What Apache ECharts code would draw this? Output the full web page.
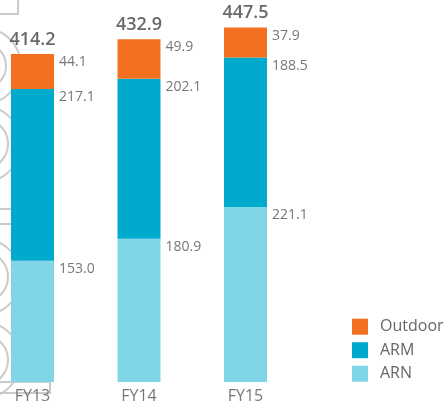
<!DOCTYPE html>
<html>
<head>
<meta charset="utf-8">
<script src="https://cdn.jsdelivr.net/npm/echarts@6/dist/echarts.min.js"></script>
<style>html,body{margin:0;padding:0;background:#fff}#c{width:446px;height:405px}</style>
</head>
<body>
<div id="c"></div>
<script>
const categories = ['FY13', 'FY14', 'FY15'];
const arn = [153.0, 180.9, 221.1];
const arm = [217.1, 202.1, 188.5];
const outdoor = [44.1, 49.9, 37.9];
const totals = [414.2, 432.9, 447.5];

const FONT = '"Open Sans", "DejaVu Sans", sans-serif';
const valueLabel = {
  show: true,
  position: [48, 8],
  align: 'left',
  verticalAlign: 'middle',
  color: '#777',
  fontSize: 14,
  fontFamily: FONT,
  formatter: p => p.value.toFixed(1)
};

const grey = '#cacaca';
const deco = [];
function circ(cy, r) { deco.push({type: 'circle', shape: {cx: -17, cy: cy, r: r}, style: {fill: null, stroke: grey, lineWidth: 2}, z: 0}); }
function rect(y, h, w) { deco.push({type: 'rect', shape: {x: -5, y: y, width: w, height: h}, style: {fill: null, stroke: grey, lineWidth: 2}, z: 0}); }
rect(-5, 19, 23);
circ(66, 38); circ(66, 23);
circ(144, 38); circ(144, 25);
rect(209, 15, 23);
circ(277, 38); circ(277, 25);
circ(360, 38); circ(360, 25);
rect(382, 11, 55);

const chart = echarts.init(document.getElementById('c'));
chart.setOption({
  animation: false,
  graphic: deco,
  grid: {left: 32.5, width: 213, top: 25.6, bottom: 23},
  legend: {
    data: ['Outdoor', 'ARM', 'ARN'],
    orient: 'vertical',
    left: 352,
    top: 318.7,
    padding: 0,
    itemWidth: 16,
    itemHeight: 16,
    itemGap: 7.5,
    icon: 'rect',
    textStyle: {color: '#666', fontSize: 16, fontFamily: FONT, padding: [0, 0, 0, 7]}
  },
  xAxis: {
    type: 'category',
    data: categories,
    boundaryGap: false,
    axisLine: {show: false},
    axisTick: {show: false},
    axisLabel: {color: '#777', fontSize: 16, fontFamily: FONT, margin: 6}
  },
  yAxis: {type: 'value', min: 0, max: 450, show: false, splitLine: {show: false}},
  series: [
    {name: 'ARN', type: 'bar', stack: 't', barWidth: 43, data: arn, itemStyle: {color: '#80d6e6'}, label: valueLabel, z: 2},
    {name: 'ARM', type: 'bar', stack: 't', barWidth: 43, data: arm, itemStyle: {color: '#00aacd'}, label: valueLabel, z: 2},
    {name: 'Outdoor', type: 'bar', stack: 't', barWidth: 43, data: outdoor, itemStyle: {color: '#f37021'}, label: valueLabel, z: 2},
    {name: 'Total', type: 'scatter', data: totals, symbolSize: 1, itemStyle: {color: 'rgba(0,0,0,0)'},
     label: {show: true, position: 'top', distance: 5, color: '#444', fontSize: 18, fontWeight: 600, fontFamily: FONT,
             formatter: p => p.value.toFixed(1)}, z: 3}
  ]
});
</script>
</body>
</html>
